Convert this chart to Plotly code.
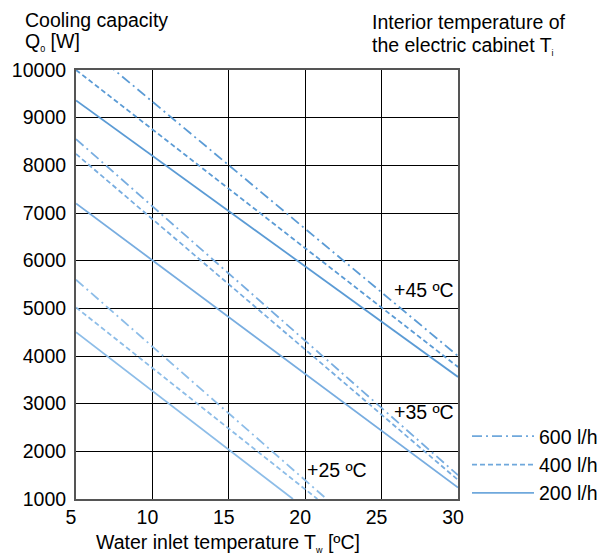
import plotly.graph_objects as go

# ---- data (straight lines: start / end points) ----
x_45_600 = [5, 30]
y_45_600 = [10670, 4000]
x_45_400 = [5, 30]
y_45_400 = [10000, 3770]
x_45_200 = [5, 30]
y_45_200 = [9360, 3560]

x_35_600 = [5, 30]
y_35_600 = [8550, 1500]
x_35_400 = [5, 30]
y_35_400 = [8240, 1400]
x_35_200 = [5, 30]
y_35_200 = [7200, 1240]

x_25_600 = [5, 21.4]
y_25_600 = [5600, 1000]
x_25_400 = [5, 20.8]
y_25_400 = [5020, 1000]
x_25_200 = [5, 19.2]
y_25_200 = [4500, 1000]

flows = ["600 l/h", "400 l/h", "200 l/h"]
group_labels = ["+45 ºC", "+35 ºC", "+25 ºC"]
label_x = [27.8, 27.8, 22.1]
label_y = [5385, 2826, 1609]

x_ticks = [5, 10, 15, 20, 25, 30]
y_ticks = [1000, 2000, 3000, 4000, 5000, 6000, 7000, 8000, 9000, 10000]

# ---- styles ----
dash_styles = {"600 l/h": "10px,4px,2px,4px", "400 l/h": "5px,3px", "200 l/h": "solid"}
group_colors = {"+45 ºC": "#5b9bd5", "+35 ºC": "#78ade0", "+25 ºC": "#8dbde8"}
legend_color = "#6fa8dc"
FONT = "Liberation Sans, Arial, sans-serif"
FS = 19.5
SUB = '<sub><span style="font-size:9px">{}</span></sub>'

series = [
    ("+45 ºC", "600 l/h", x_45_600, y_45_600),
    ("+45 ºC", "400 l/h", x_45_400, y_45_400),
    ("+45 ºC", "200 l/h", x_45_200, y_45_200),
    ("+35 ºC", "600 l/h", x_35_600, y_35_600),
    ("+35 ºC", "400 l/h", x_35_400, y_35_400),
    ("+35 ºC", "200 l/h", x_35_200, y_35_200),
    ("+25 ºC", "600 l/h", x_25_600, y_25_600),
    ("+25 ºC", "400 l/h", x_25_400, y_25_400),
    ("+25 ºC", "200 l/h", x_25_200, y_25_200),
]

fig = go.Figure()
for grp, flow, xs, ys in series:
    fig.add_trace(go.Scatter(
        x=xs, y=ys, mode="lines", showlegend=False, hoverinfo="skip",
        line=dict(color=group_colors[grp], width=1.8, dash=dash_styles[flow]),
    ))

for flow in flows:
    fig.add_trace(go.Scatter(
        x=[None], y=[None], mode="lines", name=flow,
        line=dict(color=legend_color, width=1.8, dash=dash_styles[flow]),
    ))

W, H = 616, 558
L, R, T, B = 76, 158, 70, 59
PW, PH = W - L - R, H - T - B


def px(xf):
    return (xf - L) / PW


def py(yf):
    return (H - B - yf) / PH


annotations = [
    dict(text="Cooling capacity", x=px(23), y=py(20), xanchor="left", yanchor="middle"),
    dict(text="Q" + SUB.format("0") + " [W]", x=px(23), y=py(42), xanchor="left", yanchor="middle"),
    dict(text="Interior temperature of", x=px(370), y=py(22), xanchor="left", yanchor="middle"),
    dict(text="the electric cabinet T" + SUB.format("i"), x=px(370), y=py(46), xanchor="left", yanchor="middle"),
    dict(text="Water inlet temperature T" + SUB.format("w") + " [ºC]", x=px(228), y=py(557),
         xanchor="center", yanchor="bottom"),
]
for a in annotations:
    a.update(xref="paper", yref="paper", showarrow=False, font=dict(size=FS, family=FONT, color="black"))

for t, lx, ly in zip(group_labels, label_x, label_y):
    annotations.append(dict(x=lx, y=ly, text=t, showarrow=False, xref="x", yref="y",
                            font=dict(size=FS, color="black", family=FONT)))

fig.update_layout(
    width=W, height=H,
    margin=dict(l=L, r=R, t=T, b=B, autoexpand=False),
    paper_bgcolor="white", plot_bgcolor="white",
    font=dict(family=FONT, size=FS, color="black"),
    legend=dict(x=px(467), y=py(417), xanchor="left", yanchor="top",
                font=dict(size=FS, family=FONT), itemwidth=62,
                tracegroupgap=0, bgcolor="rgba(0,0,0,0)"),
    annotations=annotations,
)

fig.update_xaxes(range=[5, 30], tickvals=x_ticks, ticktext=[str(v) for v in x_ticks],
                 showgrid=True, gridcolor="black", gridwidth=1,
                 showline=True, linecolor="#555555", linewidth=2, mirror=True,
                 zeroline=False, ticks="", ticklabelshift=-5,
                 tickfont=dict(size=FS, family=FONT))
fig.update_yaxes(range=[1000, 10000], tickvals=y_ticks, ticktext=[str(v) for v in y_ticks],
                 showgrid=True, gridcolor="black", gridwidth=1,
                 showline=True, linecolor="#555555", linewidth=2, mirror=True,
                 zeroline=False, ticks="", ticklabelstandoff=4,
                 tickfont=dict(size=FS, family=FONT))

# remove the browser's default 8px page margin so the figure fills the window
fig.write_html("out.html", config={"displayModeBar": False},
               post_script="document.body.style.margin='0px';")
